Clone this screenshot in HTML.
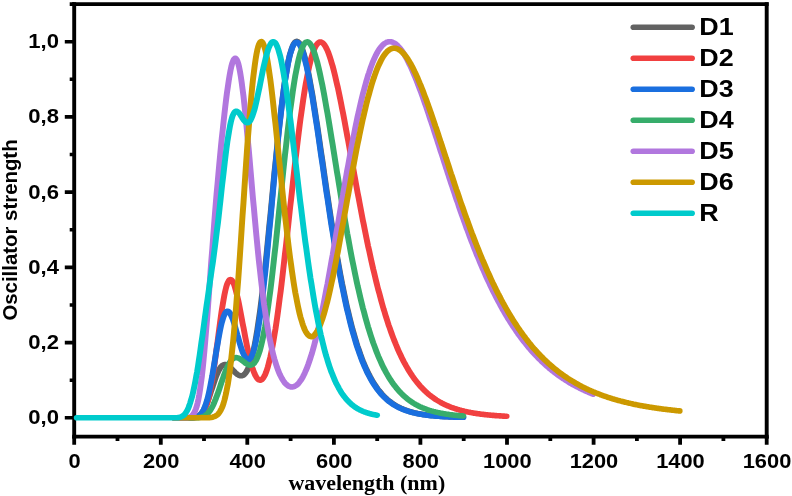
<!DOCTYPE html>
<html><head><meta charset="utf-8"><title>Oscillator strength vs wavelength</title>
<style>
html,body{margin:0;padding:0;background:#fff;}
body{width:792px;height:496px;overflow:hidden;}
svg{display:block;will-change:transform;}
.t{font-family:"Liberation Sans",Arial,sans-serif;font-weight:bold;fill:#000;}
.s{font-family:"Liberation Serif","Times New Roman",serif;font-weight:bold;fill:#000;}
.c{fill:none;stroke-width:5.6;stroke-linecap:round;stroke-linejoin:round;}
</style></head><body>
<svg width="792" height="496" viewBox="0 0 792 496">
<rect width="792" height="496" fill="#fff"/>
<path d="M72.25,4.1H768.65M72.25,436.6H768.65" stroke="#000" stroke-width="3.6" fill="none"/>
<path d="M74.2,2.29V438.41M766.7,2.29V438.41" stroke="#000" stroke-width="3.9" fill="none"/>
<path d="M74.2,436.6v8.2 M117.5,436.6v4.4 M160.8,436.6v8.2 M204.0,436.6v4.4 M247.3,436.6v8.2 M290.6,436.6v4.4 M333.9,436.6v8.2 M377.2,436.6v4.4 M420.4,436.6v8.2 M463.7,436.6v4.4 M507.0,436.6v8.2 M550.3,436.6v4.4 M593.6,436.6v8.2 M636.9,436.6v4.4 M680.1,436.6v8.2 M723.4,436.6v4.4 M766.7,436.6v8.2" stroke="#000" stroke-width="3.8" fill="none"/>
<path d="M74.2,417.8h-9.4 M74.2,380.2h-4.5 M74.2,342.6h-9.4 M74.2,305.0h-4.5 M74.2,267.4h-9.4 M74.2,229.8h-4.5 M74.2,192.1h-9.4 M74.2,154.5h-4.5 M74.2,116.9h-9.4 M74.2,79.3h-4.5 M74.2,41.7h-9.4 M74.2,4.1h-4.5" stroke="#000" stroke-width="3.6" fill="none"/>
<g transform="scale(1.06,1)">
<polyline class="c" stroke="#626262" points="164.3,417.8 165.1,417.8 166.0,417.8 166.8,417.8 167.6,417.8 168.4,417.8 169.2,417.8 170.0,417.8 170.9,417.8 171.7,417.8 172.5,417.8 173.3,417.8 174.1,417.8 174.9,417.8 175.8,417.8 176.6,417.8 177.4,417.8 178.2,417.8 179.0,417.7 179.8,417.7 180.7,417.7 181.5,417.6 182.3,417.5 183.1,417.4 183.9,417.2 184.7,417.0 185.6,416.7 186.4,416.3 187.2,415.8 188.0,415.2 188.8,414.5 189.6,413.7 190.5,412.6 191.3,411.4 192.1,410.1 192.9,408.5 193.7,406.7 194.5,404.8 195.4,402.7 196.2,400.5 197.0,398.1 197.8,395.6 198.6,393.0 199.4,390.3 200.3,387.6 201.1,385.0 201.9,382.4 202.7,379.9 203.5,377.4 204.3,375.2 205.2,373.1 206.0,371.2 206.8,369.6 207.6,368.1 208.4,366.9 209.2,366.0 210.1,365.3 210.9,364.8 211.7,364.5 212.5,364.5 213.3,364.7 214.1,365.0 215.0,365.5 215.8,366.1 216.6,366.8 217.4,367.7 218.2,368.5 219.0,369.4 219.9,370.4 220.7,371.3 221.5,372.1 222.3,373.0 223.1,373.7 223.9,374.4 224.8,374.9 225.6,375.4 226.4,375.7 227.2,375.8 228.0,375.7 228.8,375.5 229.7,375.1 230.5,374.4 231.3,373.5 232.1,372.4 232.9,371.0 233.7,369.3 234.6,367.3 235.4,365.1 236.2,362.5 237.0,359.7 237.8,356.5 238.6,352.9 239.5,349.0 240.3,344.8 241.1,340.3 241.9,335.3 242.7,330.1 243.5,324.5 244.3,318.5 245.2,312.2 246.0,305.6 246.8,298.7 247.6,291.5 248.4,284.0 249.2,276.3 250.1,268.3 250.9,260.1 251.7,251.7 252.5,243.1 253.3,234.4 254.1,225.5 255.0,216.6 255.8,207.7 256.6,198.7 257.4,189.7 258.2,180.7 259.0,171.8 259.9,163.0 260.7,154.4 261.5,145.9 262.3,137.6 263.1,129.5 263.9,121.6 264.8,114.1 265.6,106.8 266.4,99.8 267.2,93.1 268.0,86.8 268.8,80.9 269.7,75.3 270.5,70.2 271.3,65.4 272.1,61.1 272.9,57.2 273.7,53.7 274.6,50.7 275.4,48.1 276.2,45.9 277.0,44.2 277.8,42.8 278.6,42.0 279.5,41.5 280.3,41.4 281.1,41.8 281.9,42.5 282.7,43.6 283.5,45.1 284.4,46.9 285.2,49.1 286.0,51.7 286.8,54.5 287.6,57.6 288.4,61.0 289.3,64.7 290.1,68.7 290.9,72.9 291.7,77.3 292.5,81.9 293.3,86.7 294.2,91.7 295.0,96.8 295.8,102.1 296.6,107.5 297.4,113.0 298.2,118.6 299.1,124.3 299.9,130.1 300.7,136.0 301.5,141.8 302.3,147.8 303.1,153.7 304.0,159.7 304.8,165.7 305.6,171.6 306.4,177.6 307.2,183.5 308.0,189.4 308.9,195.3 309.7,201.1 310.5,206.8 311.3,212.5 312.1,218.1 312.9,223.7 313.8,229.2 314.6,234.6 315.4,239.9 316.2,245.1 317.0,250.3 317.8,255.3 318.7,260.3 319.5,265.1 320.3,269.9 321.1,274.6 321.9,279.1 322.7,283.6 323.6,287.9 324.4,292.2 325.2,296.3 326.0,300.4 326.8,304.3 327.6,308.2 328.5,311.9 329.3,315.5 330.1,319.1 330.9,322.5 331.7,325.8 332.5,329.1 333.4,332.2 334.2,335.3 335.0,338.2 335.8,341.1 336.6,343.9 337.4,346.6 338.3,349.2 339.1,351.7 339.9,354.2 340.7,356.5 341.5,358.8 342.3,361.0 343.2,363.2 344.0,365.2 344.8,367.2 345.6,369.2 346.4,371.0 347.2,372.8 348.1,374.5 348.9,376.2 349.7,377.8 350.5,379.4 351.3,380.9 352.1,382.3 353.0,383.7 353.8,385.0 354.6,386.3 355.4,387.6 356.2,388.8 357.0,389.9 357.9,391.0 358.7,392.1 359.5,393.1 360.3,394.1 361.1,395.0 361.9,396.0 362.8,396.8 363.6,397.7 364.4,398.5 365.2,399.3 366.0,400.0 366.8,400.7 367.7,401.4 368.5,402.1 369.3,402.7 370.1,403.3 370.9,403.9 371.7,404.5 372.6,405.0 373.4,405.5 374.2,406.0 375.0,406.5 375.8,407.0 376.6,407.4 377.5,407.8 378.3,408.3 379.1,408.6 379.9,409.0 380.7,409.4 381.5,409.7 382.4,410.0 383.2,410.4 384.0,410.7 384.8,411.0 385.6,411.2 386.4,411.5 387.3,411.8 388.1,412.0 388.9,412.2 389.7,412.5 390.5,412.7 391.3,412.9 392.2,413.1 393.0,413.3 393.8,413.5 394.6,413.7 395.4,413.8 396.2,414.0 397.1,414.1 397.9,414.3 398.7,414.4 399.5,414.6 400.3,414.7 401.1,414.8 402.0,414.9 402.8,415.1 403.6,415.2 404.4,415.3 405.2,415.4 406.0,415.5 406.9,415.6 407.7,415.7 408.5,415.8 409.3,415.8 410.1,415.9 410.9,416.0 411.8,416.1 412.6,416.1 413.4,416.2 414.2,416.3 415.0,416.3 415.8,416.4 416.7,416.4 417.5,416.5 418.3,416.5 419.1,416.6 419.9,416.6 420.7,416.7 421.6,416.7 422.4,416.8 423.2,416.8 424.0,416.9 424.8,416.9 425.6,416.9 426.5,417.0 427.3,417.0 428.1,417.0 428.9,417.1 429.7,417.1 430.5,417.1 431.4,417.1 432.2,417.2 433.0,417.2 433.8,417.2 434.6,417.2 435.4,417.3 436.3,417.3 437.1,417.3"/>
<polyline class="c" stroke="#F14040" points="164.3,417.8 165.1,417.8 166.0,417.8 166.8,417.8 167.6,417.8 168.4,417.8 169.2,417.8 170.0,417.8 170.9,417.8 171.7,417.8 172.5,417.8 173.3,417.8 174.1,417.8 174.9,417.8 175.8,417.8 176.6,417.8 177.4,417.8 178.2,417.8 179.0,417.8 179.8,417.8 180.7,417.8 181.5,417.7 182.3,417.7 183.1,417.6 183.9,417.6 184.7,417.4 185.6,417.3 186.4,417.1 187.2,416.8 188.0,416.4 188.8,415.9 189.6,415.2 190.5,414.3 191.3,413.3 192.1,412.0 192.9,410.4 193.7,408.5 194.5,406.2 195.4,403.6 196.2,400.6 197.0,397.2 197.8,393.3 198.6,389.0 199.4,384.3 200.3,379.2 201.1,373.7 201.9,367.9 202.7,361.7 203.5,355.4 204.3,348.8 205.2,342.2 206.0,335.6 206.8,329.0 207.6,322.5 208.4,316.3 209.2,310.4 210.1,304.8 210.9,299.7 211.7,295.1 212.5,291.0 213.3,287.5 214.1,284.6 215.0,282.4 215.8,280.8 216.6,279.8 217.4,279.5 218.2,279.8 219.0,280.7 219.9,282.2 220.7,284.2 221.5,286.7 222.3,289.7 223.1,293.0 223.9,296.6 224.8,300.6 225.6,304.8 226.4,309.2 227.2,313.7 228.0,318.3 228.8,322.9 229.7,327.5 230.5,332.1 231.3,336.7 232.1,341.1 232.9,345.4 233.7,349.5 234.6,353.4 235.4,357.1 236.2,360.6 237.0,363.8 237.8,366.8 238.6,369.5 239.5,371.9 240.3,374.0 241.1,375.8 241.9,377.3 242.7,378.5 243.5,379.4 244.3,379.9 245.2,380.2 246.0,380.1 246.8,379.7 247.6,378.9 248.4,377.8 249.2,376.4 250.1,374.7 250.9,372.6 251.7,370.2 252.5,367.5 253.3,364.4 254.1,361.0 255.0,357.4 255.8,353.4 256.6,349.1 257.4,344.5 258.2,339.6 259.0,334.4 259.9,328.9 260.7,323.2 261.5,317.3 262.3,311.1 263.1,304.6 263.9,298.0 264.8,291.1 265.6,284.1 266.4,276.9 267.2,269.5 268.0,262.0 268.8,254.4 269.7,246.7 270.5,238.9 271.3,231.1 272.1,223.2 272.9,215.3 273.7,207.3 274.6,199.4 275.4,191.6 276.2,183.7 277.0,176.0 277.8,168.3 278.6,160.8 279.5,153.3 280.3,146.0 281.1,138.9 281.9,131.9 282.7,125.2 283.5,118.6 284.4,112.2 285.2,106.1 286.0,100.2 286.8,94.6 287.6,89.2 288.4,84.1 289.3,79.3 290.1,74.7 290.9,70.4 291.7,66.4 292.5,62.8 293.3,59.4 294.2,56.3 295.0,53.5 295.8,51.0 296.6,48.9 297.4,47.0 298.2,45.4 299.1,44.2 299.9,43.2 300.7,42.5 301.5,42.1 302.3,42.0 303.1,42.1 304.0,42.6 304.8,43.3 305.6,44.2 306.4,45.4 307.2,46.8 308.0,48.5 308.9,50.4 309.7,52.5 310.5,54.8 311.3,57.3 312.1,60.0 312.9,62.9 313.8,66.0 314.6,69.2 315.4,72.6 316.2,76.1 317.0,79.8 317.8,83.6 318.7,87.5 319.5,91.5 320.3,95.6 321.1,99.8 321.9,104.1 322.7,108.5 323.6,113.0 324.4,117.5 325.2,122.1 326.0,126.7 326.8,131.3 327.6,136.0 328.5,140.7 329.3,145.5 330.1,150.2 330.9,155.0 331.7,159.8 332.5,164.6 333.4,169.3 334.2,174.1 335.0,178.8 335.8,183.6 336.6,188.3 337.4,192.9 338.3,197.6 339.1,202.2 339.9,206.7 340.7,211.3 341.5,215.8 342.3,220.2 343.2,224.6 344.0,228.9 344.8,233.2 345.6,237.5 346.4,241.6 347.2,245.8 348.1,249.8 348.9,253.8 349.7,257.8 350.5,261.6 351.3,265.4 352.1,269.2 353.0,272.9 353.8,276.5 354.6,280.1 355.4,283.5 356.2,287.0 357.0,290.3 357.9,293.6 358.7,296.8 359.5,300.0 360.3,303.1 361.1,306.1 361.9,309.1 362.8,312.0 363.6,314.9 364.4,317.6 365.2,320.3 366.0,323.0 366.8,325.6 367.7,328.1 368.5,330.6 369.3,333.0 370.1,335.4 370.9,337.7 371.7,339.9 372.6,342.1 373.4,344.3 374.2,346.3 375.0,348.4 375.8,350.3 376.6,352.3 377.5,354.2 378.3,356.0 379.1,357.8 379.9,359.5 380.7,361.2 381.5,362.8 382.4,364.4 383.2,366.0 384.0,367.5 384.8,369.0 385.6,370.4 386.4,371.8 387.3,373.2 388.1,374.5 388.9,375.8 389.7,377.0 390.5,378.2 391.3,379.4 392.2,380.6 393.0,381.7 393.8,382.8 394.6,383.8 395.4,384.8 396.2,385.8 397.1,386.8 397.9,387.7 398.7,388.6 399.5,389.5 400.3,390.3 401.1,391.2 402.0,392.0 402.8,392.8 403.6,393.5 404.4,394.3 405.2,395.0 406.0,395.7 406.9,396.3 407.7,397.0 408.5,397.6 409.3,398.2 410.1,398.8 410.9,399.4 411.8,400.0 412.6,400.5 413.4,401.0 414.2,401.5 415.0,402.0 415.8,402.5 416.7,403.0 417.5,403.4 418.3,403.9 419.1,404.3 419.9,404.7 420.7,405.1 421.6,405.5 422.4,405.9 423.2,406.2 424.0,406.6 424.8,406.9 425.6,407.3 426.5,407.6 427.3,407.9 428.1,408.2 428.9,408.5 429.7,408.8 430.5,409.0 431.4,409.3 432.2,409.6 433.0,409.8 433.8,410.1 434.6,410.3 435.4,410.5 436.3,410.7 437.1,410.9 437.9,411.2 438.7,411.4 439.5,411.6 440.3,411.7 441.2,411.9 442.0,412.1 442.8,412.3 443.6,412.4 444.4,412.6 445.2,412.8 446.1,412.9 446.9,413.1 447.7,413.2 448.5,413.3 449.3,413.5 450.1,413.6 451.0,413.7 451.8,413.8 452.6,414.0 453.4,414.1 454.2,414.2 455.0,414.3 455.9,414.4 456.7,414.5 457.5,414.6 458.3,414.7 459.1,414.8 459.9,414.9 460.8,415.0 461.6,415.0 462.4,415.1 463.2,415.2 464.0,415.3 464.8,415.4 465.7,415.4 466.5,415.5 467.3,415.6 468.1,415.6 468.9,415.7 469.7,415.8 470.6,415.8 471.4,415.9 472.2,415.9 473.0,416.0 473.8,416.0 474.6,416.1 475.5,416.1 476.3,416.2 477.1,416.2 477.9,416.3"/>
<polyline class="c" stroke="#1A6FDF" points="164.3,417.8 165.1,417.8 166.0,417.8 166.8,417.8 167.6,417.8 168.4,417.8 169.2,417.8 170.0,417.8 170.9,417.8 171.7,417.8 172.5,417.8 173.3,417.8 174.1,417.8 174.9,417.8 175.8,417.8 176.6,417.8 177.4,417.8 178.2,417.8 179.0,417.8 179.8,417.7 180.7,417.7 181.5,417.7 182.3,417.6 183.1,417.5 183.9,417.4 184.7,417.2 185.6,416.9 186.4,416.6 187.2,416.2 188.0,415.6 188.8,414.9 189.6,414.0 190.5,412.9 191.3,411.5 192.1,409.9 192.9,407.9 193.7,405.7 194.5,403.1 195.4,400.2 196.2,396.9 197.0,393.3 197.8,389.3 198.6,385.0 199.4,380.4 200.3,375.6 201.1,370.5 201.9,365.3 202.7,360.1 203.5,354.8 204.3,349.5 205.2,344.4 206.0,339.4 206.8,334.7 207.6,330.3 208.4,326.3 209.2,322.7 210.1,319.5 210.9,316.8 211.7,314.7 212.5,313.0 213.3,311.9 214.1,311.4 215.0,311.3 215.8,311.7 216.6,312.6 217.4,314.0 218.2,315.7 219.0,317.8 219.9,320.1 220.7,322.8 221.5,325.6 222.3,328.6 223.1,331.7 223.9,334.8 224.8,337.9 225.6,341.0 226.4,344.0 227.2,346.8 228.0,349.4 228.8,351.9 229.7,354.0 230.5,355.9 231.3,357.4 232.1,358.6 232.9,359.4 233.7,359.8 234.6,359.8 235.4,359.3 236.2,358.4 237.0,357.0 237.8,355.2 238.6,352.9 239.5,350.1 240.3,346.8 241.1,343.1 241.9,338.8 242.7,334.2 243.5,329.0 244.3,323.5 245.2,317.5 246.0,311.1 246.8,304.3 247.6,297.1 248.4,289.6 249.2,281.8 250.1,273.7 250.9,265.4 251.7,256.8 252.5,248.0 253.3,239.0 254.1,230.0 255.0,220.8 255.8,211.5 256.6,202.3 257.4,193.0 258.2,183.8 259.0,174.6 259.9,165.6 260.7,156.7 261.5,148.0 262.3,139.4 263.1,131.1 263.9,123.1 264.8,115.3 265.6,107.9 266.4,100.8 267.2,94.0 268.0,87.6 268.8,81.6 269.7,75.9 270.5,70.7 271.3,65.9 272.1,61.6 272.9,57.7 273.7,54.2 274.6,51.2 275.4,48.6 276.2,46.4 277.0,44.7 277.8,43.5 278.6,42.6 279.5,42.2 280.3,42.3 281.1,42.7 281.9,43.5 282.7,44.7 283.5,46.3 284.4,48.2 285.2,50.5 286.0,53.1 286.8,56.0 287.6,59.3 288.4,62.8 289.3,66.5 290.1,70.6 290.9,74.8 291.7,79.3 292.5,84.0 293.3,88.9 294.2,93.9 295.0,99.2 295.8,104.5 296.6,110.0 297.4,115.5 298.2,121.2 299.1,127.0 299.9,132.8 300.7,138.7 301.5,144.6 302.3,150.6 303.1,156.5 304.0,162.5 304.8,168.5 305.6,174.5 306.4,180.5 307.2,186.4 308.0,192.3 308.9,198.1 309.7,203.9 310.5,209.7 311.3,215.4 312.1,221.0 312.9,226.5 313.8,232.0 314.6,237.4 315.4,242.7 316.2,247.9 317.0,253.0 317.8,258.0 318.7,262.9 319.5,267.8 320.3,272.5 321.1,277.1 321.9,281.6 322.7,286.0 323.6,290.3 324.4,294.6 325.2,298.7 326.0,302.7 326.8,306.6 327.6,310.4 328.5,314.0 329.3,317.6 330.1,321.1 330.9,324.5 331.7,327.8 332.5,331.0 333.4,334.1 334.2,337.1 335.0,340.0 335.8,342.9 336.6,345.6 337.4,348.3 338.3,350.8 339.1,353.3 339.9,355.7 340.7,358.0 341.5,360.3 342.3,362.5 343.2,364.6 344.0,366.6 344.8,368.5 345.6,370.4 346.4,372.3 347.2,374.0 348.1,375.7 348.9,377.3 349.7,378.9 350.5,380.4 351.3,381.9 352.1,383.3 353.0,384.7 353.8,386.0 354.6,387.2 355.4,388.4 356.2,389.6 357.0,390.7 357.9,391.8 358.7,392.9 359.5,393.9 360.3,394.8 361.1,395.7 361.9,396.6 362.8,397.5 363.6,398.3 364.4,399.1 365.2,399.9 366.0,400.6 366.8,401.3 367.7,401.9 368.5,402.6 369.3,403.2 370.1,403.8 370.9,404.4 371.7,404.9 372.6,405.5 373.4,406.0 374.2,406.4 375.0,406.9 375.8,407.4 376.6,407.8 377.5,408.2 378.3,408.6 379.1,409.0 379.9,409.3 380.7,409.7 381.5,410.0 382.4,410.3 383.2,410.6 384.0,410.9 384.8,411.2 385.6,411.5 386.4,411.7 387.3,412.0 388.1,412.2 388.9,412.5 389.7,412.7 390.5,412.9 391.3,413.1 392.2,413.3 393.0,413.5 393.8,413.6 394.6,413.8 395.4,414.0 396.2,414.1 397.1,414.3 397.9,414.4 398.7,414.6 399.5,414.7 400.3,414.8 401.1,414.9 402.0,415.1 402.8,415.2 403.6,415.3 404.4,415.4 405.2,415.5 406.0,415.6 406.9,415.7 407.7,415.8 408.5,415.8 409.3,415.9 410.1,416.0 410.9,416.1 411.8,416.1 412.6,416.2 413.4,416.3 414.2,416.3 415.0,416.4 415.8,416.4 416.7,416.5 417.5,416.6 418.3,416.6 419.1,416.6 419.9,416.7 420.7,416.7 421.6,416.8 422.4,416.8 423.2,416.9 424.0,416.9 424.8,416.9 425.6,417.0 426.5,417.0 427.3,417.0 428.1,417.1 428.9,417.1 429.7,417.1 430.5,417.1 431.4,417.2 432.2,417.2 433.0,417.2 433.8,417.2 434.6,417.3 435.4,417.3 436.3,417.3 437.1,417.3"/>
<polyline class="c" stroke="#37AD6B" points="164.3,417.8 165.1,417.8 166.0,417.8 166.8,417.8 167.6,417.8 168.4,417.8 169.2,417.8 170.0,417.8 170.9,417.8 171.7,417.8 172.5,417.8 173.3,417.8 174.1,417.8 174.9,417.8 175.8,417.8 176.6,417.8 177.4,417.8 178.2,417.8 179.0,417.8 179.8,417.8 180.7,417.8 181.5,417.8 182.3,417.8 183.1,417.8 183.9,417.7 184.7,417.7 185.6,417.7 186.4,417.6 187.2,417.6 188.0,417.5 188.8,417.3 189.6,417.2 190.5,417.0 191.3,416.7 192.1,416.4 192.9,416.0 193.7,415.4 194.5,414.8 195.4,414.1 196.2,413.3 197.0,412.3 197.8,411.1 198.6,409.9 199.4,408.4 200.3,406.8 201.1,405.1 201.9,403.2 202.7,401.1 203.5,399.0 204.3,396.7 205.2,394.3 206.0,391.8 206.8,389.3 207.6,386.7 208.4,384.1 209.2,381.6 210.1,379.0 210.9,376.5 211.7,374.2 212.5,371.9 213.3,369.7 214.1,367.7 215.0,365.9 215.8,364.2 216.6,362.7 217.4,361.4 218.2,360.3 219.0,359.4 219.9,358.7 220.7,358.1 221.5,357.8 222.3,357.6 223.1,357.6 223.9,357.8 224.8,358.0 225.6,358.4 226.4,358.9 227.2,359.5 228.0,360.2 228.8,360.8 229.7,361.5 230.5,362.2 231.3,362.9 232.1,363.5 232.9,364.1 233.7,364.5 234.6,364.9 235.4,365.1 236.2,365.2 237.0,365.0 237.8,364.7 238.6,364.2 239.5,363.4 240.3,362.4 241.1,361.1 241.9,359.6 242.7,357.7 243.5,355.6 244.3,353.1 245.2,350.3 246.0,347.1 246.8,343.7 247.6,339.9 248.4,335.7 249.2,331.3 250.1,326.4 250.9,321.3 251.7,315.8 252.5,310.0 253.3,304.0 254.1,297.6 255.0,290.9 255.8,284.0 256.6,276.9 257.4,269.5 258.2,261.9 259.0,254.1 259.9,246.2 260.7,238.1 261.5,229.9 262.3,221.6 263.1,213.3 263.9,204.9 264.8,196.5 265.6,188.2 266.4,179.9 267.2,171.6 268.0,163.4 268.8,155.4 269.7,147.5 270.5,139.7 271.3,132.1 272.1,124.8 272.9,117.7 273.7,110.8 274.6,104.1 275.4,97.8 276.2,91.7 277.0,86.0 277.8,80.6 278.6,75.5 279.5,70.8 280.3,66.4 281.1,62.3 281.9,58.6 282.7,55.3 283.5,52.4 284.4,49.8 285.2,47.6 286.0,45.7 286.8,44.2 287.6,43.1 288.4,42.4 289.3,42.0 290.1,41.9 290.9,42.2 291.7,42.8 292.5,43.7 293.3,45.0 294.2,46.5 295.0,48.3 295.8,50.5 296.6,52.8 297.4,55.5 298.2,58.4 299.1,61.5 299.9,64.9 300.7,68.4 301.5,72.2 302.3,76.1 303.1,80.3 304.0,84.6 304.8,89.0 305.6,93.6 306.4,98.3 307.2,103.1 308.0,108.0 308.9,113.0 309.7,118.1 310.5,123.2 311.3,128.5 312.1,133.7 312.9,139.0 313.8,144.4 314.6,149.8 315.4,155.2 316.2,160.6 317.0,165.9 317.8,171.3 318.7,176.7 319.5,182.1 320.3,187.4 321.1,192.7 321.9,198.0 322.7,203.2 323.6,208.3 324.4,213.5 325.2,218.5 326.0,223.5 326.8,228.5 327.6,233.4 328.5,238.2 329.3,242.9 330.1,247.6 330.9,252.2 331.7,256.7 332.5,261.1 333.4,265.5 334.2,269.7 335.0,273.9 335.8,278.0 336.6,282.1 337.4,286.0 338.3,289.9 339.1,293.6 339.9,297.3 340.7,300.9 341.5,304.4 342.3,307.9 343.2,311.2 344.0,314.5 344.8,317.7 345.6,320.8 346.4,323.8 347.2,326.8 348.1,329.7 348.9,332.5 349.7,335.2 350.5,337.8 351.3,340.4 352.1,342.9 353.0,345.4 353.8,347.7 354.6,350.0 355.4,352.2 356.2,354.4 357.0,356.5 357.9,358.6 358.7,360.5 359.5,362.4 360.3,364.3 361.1,366.1 361.9,367.9 362.8,369.6 363.6,371.2 364.4,372.8 365.2,374.3 366.0,375.8 366.8,377.3 367.7,378.7 368.5,380.0 369.3,381.3 370.1,382.6 370.9,383.8 371.7,385.0 372.6,386.1 373.4,387.2 374.2,388.3 375.0,389.3 375.8,390.3 376.6,391.3 377.5,392.2 378.3,393.1 379.1,394.0 379.9,394.8 380.7,395.7 381.5,396.4 382.4,397.2 383.2,397.9 384.0,398.6 384.8,399.3 385.6,400.0 386.4,400.6 387.3,401.2 388.1,401.8 388.9,402.4 389.7,402.9 390.5,403.5 391.3,404.0 392.2,404.5 393.0,404.9 393.8,405.4 394.6,405.8 395.4,406.3 396.2,406.7 397.1,407.1 397.9,407.5 398.7,407.8 399.5,408.2 400.3,408.5 401.1,408.9 402.0,409.2 402.8,409.5 403.6,409.8 404.4,410.1 405.2,410.4 406.0,410.6 406.9,410.9 407.7,411.1 408.5,411.4 409.3,411.6 410.1,411.8 410.9,412.0 411.8,412.2 412.6,412.4 413.4,412.6 414.2,412.8 415.0,413.0 415.8,413.2 416.7,413.3 417.5,413.5 418.3,413.6 419.1,413.8 419.9,413.9 420.7,414.1 421.6,414.2 422.4,414.3 423.2,414.4 424.0,414.6 424.8,414.7 425.6,414.8 426.5,414.9 427.3,415.0 428.1,415.1 428.9,415.2 429.7,415.3 430.5,415.4 431.4,415.5 432.2,415.5 433.0,415.6 433.8,415.7 434.6,415.8 435.4,415.8 436.3,415.9 437.1,416.0"/>
<polyline class="c" stroke="#B177DE" points="164.3,417.8 165.1,417.8 166.0,417.8 166.8,417.8 167.6,417.8 168.4,417.8 169.2,417.8 170.0,417.8 170.9,417.8 171.7,417.8 172.5,417.8 173.3,417.8 174.1,417.8 174.9,417.7 175.8,417.7 176.6,417.6 177.4,417.5 178.2,417.3 179.0,417.0 179.8,416.6 180.7,416.1 181.5,415.3 182.3,414.3 183.1,413.0 183.9,411.3 184.7,409.1 185.6,406.4 186.4,403.1 187.2,399.2 188.0,394.5 188.8,389.0 189.6,382.8 190.5,375.8 191.3,367.9 192.1,359.3 192.9,350.0 193.7,340.0 194.5,329.5 195.4,318.5 196.2,307.1 197.0,295.5 197.8,283.8 198.6,272.0 199.4,260.2 200.3,248.6 201.1,237.1 201.9,225.9 202.7,215.0 203.5,204.4 204.3,194.1 205.2,184.1 206.0,174.4 206.8,165.0 207.6,155.9 208.4,147.0 209.2,138.4 210.1,130.1 210.9,122.0 211.7,114.2 212.5,106.7 213.3,99.6 214.1,92.8 215.0,86.5 215.8,80.7 216.6,75.4 217.4,70.7 218.2,66.7 219.0,63.5 219.9,61.0 220.7,59.2 221.5,58.4 222.3,58.4 223.1,59.3 223.9,61.0 224.8,63.7 225.6,67.2 226.4,71.5 227.2,76.6 228.0,82.4 228.8,89.0 229.7,96.2 230.5,103.9 231.3,112.2 232.1,120.8 232.9,129.9 233.7,139.2 234.6,148.8 235.4,158.6 236.2,168.4 237.0,178.3 237.8,188.2 238.6,198.0 239.5,207.7 240.3,217.2 241.1,226.6 241.9,235.8 242.7,244.6 243.5,253.3 244.3,261.6 245.2,269.7 246.0,277.4 246.8,284.8 247.6,291.9 248.4,298.6 249.2,305.1 250.1,311.2 250.9,317.0 251.7,322.5 252.5,327.7 253.3,332.6 254.1,337.2 255.0,341.5 255.8,345.6 256.6,349.4 257.4,353.0 258.2,356.4 259.0,359.5 259.9,362.5 260.7,365.2 261.5,367.7 262.3,370.1 263.1,372.2 263.9,374.2 264.8,376.1 265.6,377.7 266.4,379.3 267.2,380.6 268.0,381.9 268.8,383.0 269.7,383.9 270.5,384.7 271.3,385.4 272.1,386.0 272.9,386.4 273.7,386.7 274.6,386.9 275.4,387.0 276.2,386.9 277.0,386.7 277.8,386.4 278.6,385.9 279.5,385.4 280.3,384.7 281.1,383.9 281.9,382.9 282.7,381.8 283.5,380.6 284.4,379.3 285.2,377.9 286.0,376.3 286.8,374.6 287.6,372.8 288.4,370.8 289.3,368.7 290.1,366.5 290.9,364.2 291.7,361.7 292.5,359.1 293.3,356.4 294.2,353.6 295.0,350.6 295.8,347.5 296.6,344.4 297.4,341.0 298.2,337.6 299.1,334.1 299.9,330.5 300.7,326.7 301.5,322.9 302.3,318.9 303.1,314.9 304.0,310.7 304.8,306.5 305.6,302.2 306.4,297.8 307.2,293.3 308.0,288.8 308.9,284.2 309.7,279.5 310.5,274.8 311.3,270.0 312.1,265.1 312.9,260.2 313.8,255.3 314.6,250.3 315.4,245.3 316.2,240.3 317.0,235.3 317.8,230.2 318.7,225.1 319.5,220.1 320.3,215.0 321.1,209.9 321.9,204.8 322.7,199.8 323.6,194.8 324.4,189.7 325.2,184.8 326.0,179.8 326.8,174.9 327.6,170.0 328.5,165.2 329.3,160.5 330.1,155.7 330.9,151.1 331.7,146.5 332.5,142.0 333.4,137.5 334.2,133.2 335.0,128.8 335.8,124.6 336.6,120.5 337.4,116.4 338.3,112.5 339.1,108.6 339.9,104.9 340.7,101.2 341.5,97.6 342.3,94.1 343.2,90.8 344.0,87.5 344.8,84.4 345.6,81.3 346.4,78.4 347.2,75.5 348.1,72.8 348.9,70.2 349.7,67.7 350.5,65.4 351.3,63.1 352.1,61.0 353.0,58.9 353.8,57.0 354.6,55.2 355.4,53.6 356.2,52.0 357.0,50.5 357.9,49.2 358.7,48.0 359.5,46.9 360.3,45.9 361.1,45.0 361.9,44.2 362.8,43.5 363.6,43.0 364.4,42.5 365.2,42.1 366.0,41.9 366.8,41.8 367.7,41.7 368.5,41.8 369.3,41.9 370.1,42.2 370.9,42.5 371.7,43.0 372.6,43.5 373.4,44.1 374.2,44.8 375.0,45.6 375.8,46.5 376.6,47.4 377.5,48.5 378.3,49.6 379.1,50.7 379.9,52.0 380.7,53.3 381.5,54.7 382.4,56.2 383.2,57.7 384.0,59.3 384.8,61.0 385.6,62.7 386.4,64.5 387.3,66.3 388.1,68.2 388.9,70.1 389.7,72.1 390.5,74.2 391.3,76.2 392.2,78.4 393.0,80.5 393.8,82.7 394.6,85.0 395.4,87.3 396.2,89.6 397.1,91.9 397.9,94.3 398.7,96.7 399.5,99.2 400.3,101.6 401.1,104.1 402.0,106.6 402.8,109.1 403.6,111.7 404.4,114.3 405.2,116.9 406.0,119.5 406.9,122.1 407.7,124.7 408.5,127.3 409.3,130.0 410.1,132.7 410.9,135.3 411.8,138.0 412.6,140.7 413.4,143.4 414.2,146.0 415.0,148.7 415.8,151.4 416.7,154.1 417.5,156.8 418.3,159.5 419.1,162.2 419.9,164.8 420.7,167.5 421.6,170.2 422.4,172.9 423.2,175.5 424.0,178.2 424.8,180.8 425.6,183.4 426.5,186.0 427.3,188.6 428.1,191.2 428.9,193.8 429.7,196.4 430.5,199.0 431.4,201.5 432.2,204.0 433.0,206.6 433.8,209.1 434.6,211.5 435.4,214.0 436.3,216.5 437.1,218.9 437.9,221.3 438.7,223.7 439.5,226.1 440.3,228.5 441.2,230.8 442.0,233.2 442.8,235.5 443.6,237.8 444.4,240.1 445.2,242.3 446.1,244.5 446.9,246.8 447.7,249.0 448.5,251.1 449.3,253.3 450.1,255.4 451.0,257.5 451.8,259.6 452.6,261.7 453.4,263.8 454.2,265.8 455.0,267.8 455.9,269.8 456.7,271.8 457.5,273.7 458.3,275.7 459.1,277.6 459.9,279.5 460.8,281.4 461.6,283.2 462.4,285.0 463.2,286.8 464.0,288.6 464.8,290.4 465.7,292.2 466.5,293.9 467.3,295.6 468.1,297.3 468.9,298.9 469.7,300.6 470.6,302.2 471.4,303.8 472.2,305.4 473.0,307.0 473.8,308.6 474.6,310.1 475.5,311.6 476.3,313.1 477.1,314.6 477.9,316.0 478.7,317.5 479.5,318.9 480.4,320.3 481.2,321.7 482.0,323.0 482.8,324.4 483.6,325.7 484.4,327.0 485.3,328.3 486.1,329.6 486.9,330.9 487.7,332.1 488.5,333.4 489.3,334.6 490.2,335.8 491.0,336.9 491.8,338.1 492.6,339.3 493.4,340.4 494.2,341.5 495.1,342.6 495.9,343.7 496.7,344.8 497.5,345.8 498.3,346.9 499.1,347.9 500.0,348.9 500.8,349.9 501.6,350.9 502.4,351.9 503.2,352.8 504.0,353.8 504.9,354.7 505.7,355.6 506.5,356.5 507.3,357.4 508.1,358.3 508.9,359.2 509.8,360.0 510.6,360.9 511.4,361.7 512.2,362.5 513.0,363.3 513.8,364.1 514.7,364.9 515.5,365.7 516.3,366.5 517.1,367.2 517.9,367.9 518.7,368.7 519.6,369.4 520.4,370.1 521.2,370.8 522.0,371.5 522.8,372.2 523.6,372.8 524.5,373.5 525.3,374.1 526.1,374.8 526.9,375.4 527.7,376.0 528.5,376.6 529.4,377.2 530.2,377.8 531.0,378.4 531.8,379.0 532.6,379.5 533.4,380.1 534.3,380.7 535.1,381.2 535.9,381.7 536.7,382.3 537.5,382.8 538.3,383.3 539.2,383.8 540.0,384.3 540.8,384.8 541.6,385.2 542.4,385.7 543.2,386.2 544.1,386.6 544.9,387.1 545.7,387.5 546.5,388.0 547.3,388.4 548.1,388.8 549.0,389.3 549.8,389.7 550.6,390.1 551.4,390.5 552.2,390.9 553.0,391.3 553.9,391.6 554.7,392.0 555.5,392.4 556.3,392.8 557.1,393.1 557.9,393.5 558.8,393.8 559.6,394.2"/>
<polyline class="c" stroke="#CC9900" points="164.3,417.8 165.1,417.8 166.0,417.8 166.8,417.8 167.6,417.8 168.4,417.8 169.2,417.8 170.0,417.8 170.9,417.8 171.7,417.8 172.5,417.8 173.3,417.8 174.1,417.8 174.9,417.8 175.8,417.8 176.6,417.8 177.4,417.8 178.2,417.8 179.0,417.8 179.8,417.8 180.7,417.8 181.5,417.8 182.3,417.8 183.1,417.8 183.9,417.8 184.7,417.8 185.6,417.8 186.4,417.8 187.2,417.8 188.0,417.8 188.8,417.8 189.6,417.8 190.5,417.8 191.3,417.8 192.1,417.8 192.9,417.8 193.7,417.8 194.5,417.8 195.4,417.7 196.2,417.7 197.0,417.6 197.8,417.6 198.6,417.5 199.4,417.4 200.3,417.2 201.1,417.0 201.9,416.7 202.7,416.4 203.5,415.9 204.3,415.4 205.2,414.7 206.0,413.8 206.8,412.7 207.6,411.4 208.4,409.9 209.2,408.1 210.1,405.9 210.9,403.4 211.7,400.4 212.5,397.0 213.3,393.2 214.1,388.8 215.0,383.9 215.8,378.4 216.6,372.4 217.4,365.7 218.2,358.4 219.0,350.5 219.9,341.9 220.7,332.8 221.5,323.1 222.3,312.8 223.1,301.9 223.9,290.6 224.8,278.9 225.6,266.7 226.4,254.3 227.2,241.6 228.0,228.7 228.8,215.7 229.7,202.7 230.5,189.8 231.3,177.0 232.1,164.4 232.9,152.1 233.7,140.1 234.6,128.6 235.4,117.7 236.2,107.2 237.0,97.5 237.8,88.4 238.6,80.0 239.5,72.4 240.3,65.6 241.1,59.6 241.9,54.5 242.7,50.2 243.5,46.8 244.3,44.2 245.2,42.5 246.0,41.7 246.8,41.6 247.6,42.3 248.4,43.9 249.2,46.1 250.1,49.1 250.9,52.7 251.7,56.9 252.5,61.7 253.3,67.1 254.1,73.0 255.0,79.3 255.8,86.0 256.6,93.0 257.4,100.4 258.2,108.1 259.0,115.9 259.9,124.0 260.7,132.2 261.5,140.6 262.3,149.0 263.1,157.4 263.9,165.8 264.8,174.2 265.6,182.6 266.4,190.9 267.2,199.0 268.0,207.1 268.8,215.0 269.7,222.7 270.5,230.2 271.3,237.6 272.1,244.7 272.9,251.6 273.7,258.2 274.6,264.6 275.4,270.8 276.2,276.7 277.0,282.3 277.8,287.6 278.6,292.7 279.5,297.5 280.3,302.0 281.1,306.2 281.9,310.1 282.7,313.8 283.5,317.2 284.4,320.3 285.2,323.1 286.0,325.6 286.8,327.9 287.6,329.9 288.4,331.6 289.3,333.1 290.1,334.3 290.9,335.2 291.7,335.9 292.5,336.4 293.3,336.6 294.2,336.6 295.0,336.3 295.8,335.8 296.6,335.1 297.4,334.1 298.2,333.0 299.1,331.6 299.9,330.1 300.7,328.3 301.5,326.4 302.3,324.2 303.1,321.9 304.0,319.4 304.8,316.8 305.6,314.0 306.4,311.0 307.2,307.9 308.0,304.6 308.9,301.2 309.7,297.7 310.5,294.0 311.3,290.2 312.1,286.3 312.9,282.3 313.8,278.2 314.6,274.0 315.4,269.8 316.2,265.4 317.0,261.0 317.8,256.5 318.7,251.9 319.5,247.3 320.3,242.6 321.1,237.9 321.9,233.1 322.7,228.4 323.6,223.6 324.4,218.7 325.2,213.9 326.0,209.1 326.8,204.2 327.6,199.4 328.5,194.6 329.3,189.7 330.1,185.0 330.9,180.2 331.7,175.5 332.5,170.8 333.4,166.1 334.2,161.5 335.0,157.0 335.8,152.5 336.6,148.0 337.4,143.7 338.3,139.4 339.1,135.1 339.9,131.0 340.7,126.9 341.5,122.9 342.3,119.0 343.2,115.1 344.0,111.4 344.8,107.8 345.6,104.2 346.4,100.8 347.2,97.4 348.1,94.2 348.9,91.1 349.7,88.0 350.5,85.1 351.3,82.3 352.1,79.6 353.0,77.0 353.8,74.5 354.6,72.1 355.4,69.9 356.2,67.7 357.0,65.7 357.9,63.8 358.7,62.0 359.5,60.3 360.3,58.7 361.1,57.2 361.9,55.9 362.8,54.6 363.6,53.5 364.4,52.5 365.2,51.6 366.0,50.8 366.8,50.1 367.7,49.5 368.5,49.1 369.3,48.7 370.1,48.4 370.9,48.3 371.7,48.2 372.6,48.2 373.4,48.3 374.2,48.6 375.0,48.9 375.8,49.3 376.6,49.8 377.5,50.4 378.3,51.1 379.1,51.8 379.9,52.7 380.7,53.6 381.5,54.6 382.4,55.7 383.2,56.8 384.0,58.0 384.8,59.3 385.6,60.7 386.4,62.1 387.3,63.6 388.1,65.2 388.9,66.8 389.7,68.5 390.5,70.2 391.3,72.0 392.2,73.9 393.0,75.8 393.8,77.7 394.6,79.7 395.4,81.7 396.2,83.8 397.1,85.9 397.9,88.1 398.7,90.3 399.5,92.5 400.3,94.8 401.1,97.1 402.0,99.4 402.8,101.8 403.6,104.2 404.4,106.6 405.2,109.0 406.0,111.5 406.9,114.0 407.7,116.5 408.5,119.0 409.3,121.5 410.1,124.1 410.9,126.6 411.8,129.2 412.6,131.8 413.4,134.4 414.2,137.0 415.0,139.6 415.8,142.2 416.7,144.9 417.5,147.5 418.3,150.1 419.1,152.8 419.9,155.4 420.7,158.0 421.6,160.7 422.4,163.3 423.2,165.9 424.0,168.6 424.8,171.2 425.6,173.8 426.5,176.4 427.3,179.0 428.1,181.6 428.9,184.2 429.7,186.8 430.5,189.3 431.4,191.9 432.2,194.4 433.0,196.9 433.8,199.5 434.6,202.0 435.4,204.5 436.3,206.9 437.1,209.4 437.9,211.9 438.7,214.3 439.5,216.7 440.3,219.1 441.2,221.5 442.0,223.9 442.8,226.2 443.6,228.6 444.4,230.9 445.2,233.2 446.1,235.5 446.9,237.7 447.7,240.0 448.5,242.2 449.3,244.4 450.1,246.6 451.0,248.8 451.8,250.9 452.6,253.1 453.4,255.2 454.2,257.3 455.0,259.3 455.9,261.4 456.7,263.4 457.5,265.4 458.3,267.4 459.1,269.4 459.9,271.4 460.8,273.3 461.6,275.2 462.4,277.1 463.2,279.0 464.0,280.8 464.8,282.7 465.7,284.5 466.5,286.3 467.3,288.0 468.1,289.8 468.9,291.5 469.7,293.2 470.6,294.9 471.4,296.6 472.2,298.2 473.0,299.9 473.8,301.5 474.6,303.1 475.5,304.7 476.3,306.2 477.1,307.8 477.9,309.3 478.7,310.8 479.5,312.3 480.4,313.7 481.2,315.2 482.0,316.6 482.8,318.0 483.6,319.4 484.4,320.8 485.3,322.2 486.1,323.5 486.9,324.8 487.7,326.1 488.5,327.4 489.3,328.7 490.2,329.9 491.0,331.2 491.8,332.4 492.6,333.6 493.4,334.8 494.2,336.0 495.1,337.1 495.9,338.3 496.7,339.4 497.5,340.5 498.3,341.6 499.1,342.7 500.0,343.8 500.8,344.8 501.6,345.9 502.4,346.9 503.2,347.9 504.0,348.9 504.9,349.9 505.7,350.8 506.5,351.8 507.3,352.7 508.1,353.7 508.9,354.6 509.8,355.5 510.6,356.4 511.4,357.3 512.2,358.1 513.0,359.0 513.8,359.8 514.7,360.6 515.5,361.5 516.3,362.3 517.1,363.1 517.9,363.8 518.7,364.6 519.6,365.4 520.4,366.1 521.2,366.9 522.0,367.6 522.8,368.3 523.6,369.0 524.5,369.7 525.3,370.4 526.1,371.1 526.9,371.8 527.7,372.4 528.5,373.1 529.4,373.7 530.2,374.3 531.0,375.0 531.8,375.6 532.6,376.2 533.4,376.8 534.3,377.3 535.1,377.9 535.9,378.5 536.7,379.0 537.5,379.6 538.3,380.1 539.2,380.7 540.0,381.2 540.8,381.7 541.6,382.2 542.4,382.7 543.2,383.2 544.1,383.7 544.9,384.2 545.7,384.7 546.5,385.2 547.3,385.6 548.1,386.1 549.0,386.5 549.8,387.0 550.6,387.4 551.4,387.8 552.2,388.2 553.0,388.7 553.9,389.1 554.7,389.5 555.5,389.9 556.3,390.3 557.1,390.7 557.9,391.0 558.8,391.4 559.6,391.8 560.4,392.1 561.2,392.5 562.0,392.9 562.8,393.2 563.7,393.5 564.5,393.9 565.3,394.2 566.1,394.5 566.9,394.9 567.7,395.2 568.6,395.5 569.4,395.8 570.2,396.1 571.0,396.4 571.8,396.7 572.6,397.0 573.5,397.3 574.3,397.6 575.1,397.8 575.9,398.1 576.7,398.4 577.5,398.7 578.4,398.9 579.2,399.2 580.0,399.4 580.8,399.7 581.6,399.9 582.4,400.2 583.3,400.4 584.1,400.6 584.9,400.9 585.7,401.1 586.5,401.3 587.3,401.6 588.2,401.8 589.0,402.0 589.8,402.2 590.6,402.4 591.4,402.6 592.2,402.8 593.0,403.0 593.9,403.2 594.7,403.4 595.5,403.6 596.3,403.8 597.1,404.0 597.9,404.2 598.8,404.4 599.6,404.5 600.4,404.7 601.2,404.9 602.0,405.1 602.8,405.2 603.7,405.4 604.5,405.6 605.3,405.7 606.1,405.9 606.9,406.0 607.7,406.2 608.6,406.3 609.4,406.5 610.2,406.6 611.0,406.8 611.8,406.9 612.6,407.1 613.5,407.2 614.3,407.3 615.1,407.5 615.9,407.6 616.7,407.7 617.5,407.9 618.4,408.0 619.2,408.1 620.0,408.3 620.8,408.4 621.6,408.5 622.4,408.6 623.3,408.7 624.1,408.9 624.9,409.0 625.7,409.1 626.5,409.2 627.3,409.3 628.2,409.4 629.0,409.5 629.8,409.6 630.6,409.7 631.4,409.8 632.2,409.9 633.1,410.0 633.9,410.1 634.7,410.2 635.5,410.3 636.3,410.4 637.1,410.5 638.0,410.6 638.8,410.7 639.6,410.8 640.4,410.9 641.2,410.9"/>
<polyline class="c" stroke="#00CBCC" points="72.4,417.8 73.3,417.8 74.1,417.8 74.9,417.8 75.7,417.8 76.5,417.8 77.3,417.8 78.2,417.8 79.0,417.8 79.8,417.8 80.6,417.8 81.4,417.8 82.2,417.8 83.1,417.8 83.9,417.8 84.7,417.8 85.5,417.8 86.3,417.8 87.1,417.8 88.0,417.8 88.8,417.8 89.6,417.8 90.4,417.8 91.2,417.8 92.0,417.8 92.9,417.8 93.7,417.8 94.5,417.8 95.3,417.8 96.1,417.8 96.9,417.8 97.8,417.8 98.6,417.8 99.4,417.8 100.2,417.8 101.0,417.8 101.8,417.8 102.7,417.8 103.5,417.8 104.3,417.8 105.1,417.8 105.9,417.8 106.7,417.8 107.6,417.8 108.4,417.8 109.2,417.8 110.0,417.8 110.8,417.8 111.6,417.8 112.5,417.8 113.3,417.8 114.1,417.8 114.9,417.8 115.7,417.8 116.5,417.8 117.4,417.8 118.2,417.8 119.0,417.8 119.8,417.8 120.6,417.8 121.4,417.8 122.3,417.8 123.1,417.8 123.9,417.8 124.7,417.8 125.5,417.8 126.3,417.8 127.2,417.8 128.0,417.8 128.8,417.8 129.6,417.8 130.4,417.8 131.2,417.8 132.1,417.8 132.9,417.8 133.7,417.8 134.5,417.8 135.3,417.8 136.1,417.8 137.0,417.8 137.8,417.8 138.6,417.8 139.4,417.8 140.2,417.8 141.0,417.8 141.9,417.8 142.7,417.8 143.5,417.8 144.3,417.8 145.1,417.8 145.9,417.8 146.8,417.8 147.6,417.8 148.4,417.8 149.2,417.8 150.0,417.8 150.8,417.8 151.7,417.8 152.5,417.8 153.3,417.8 154.1,417.8 154.9,417.8 155.7,417.8 156.6,417.8 157.4,417.8 158.2,417.8 159.0,417.8 159.8,417.8 160.6,417.8 161.5,417.8 162.3,417.8 163.1,417.8 163.9,417.8 164.7,417.8 165.5,417.8 166.4,417.7 167.2,417.7 168.0,417.6 168.8,417.5 169.6,417.3 170.4,417.0 171.3,416.7 172.1,416.2 172.9,415.6 173.7,414.9 174.5,413.9 175.3,412.7 176.2,411.3 177.0,409.7 177.8,407.7 178.6,405.5 179.4,403.0 180.2,400.1 181.1,397.0 181.9,393.5 182.7,389.7 183.5,385.6 184.3,381.2 185.1,376.4 186.0,371.4 186.8,366.1 187.6,360.5 188.4,354.8 189.2,348.8 190.0,342.7 190.9,336.5 191.7,330.3 192.5,324.0 193.3,317.7 194.1,311.5 194.9,305.3 195.8,299.2 196.6,293.1 197.4,287.1 198.2,281.1 199.0,275.1 199.8,269.1 200.7,263.0 201.5,256.8 202.3,250.4 203.1,243.8 203.9,237.0 204.7,230.0 205.6,222.8 206.4,215.4 207.2,207.8 208.0,200.1 208.8,192.3 209.6,184.4 210.5,176.7 211.3,169.1 212.1,161.7 212.9,154.6 213.7,147.8 214.5,141.6 215.4,135.8 216.2,130.6 217.0,125.9 217.8,121.9 218.6,118.6 219.4,115.9 220.3,113.8 221.1,112.4 221.9,111.5 222.7,111.2 223.5,111.3 224.3,111.8 225.2,112.6 226.0,113.7 226.8,114.9 227.6,116.3 228.4,117.7 229.2,119.0 230.1,120.3 230.9,121.3 231.7,122.1 232.5,122.6 233.3,122.8 234.1,122.6 235.0,122.0 235.8,121.0 236.6,119.7 237.4,117.9 238.2,115.7 239.0,113.1 239.9,110.2 240.7,107.0 241.5,103.5 242.3,99.7 243.1,95.7 243.9,91.6 244.8,87.4 245.6,83.1 246.4,78.8 247.2,74.5 248.0,70.3 248.8,66.3 249.7,62.4 250.5,58.8 251.3,55.5 252.1,52.4 252.9,49.7 253.7,47.3 254.6,45.3 255.4,43.8 256.2,42.6 257.0,41.9 257.8,41.7 258.6,41.9 259.5,42.6 260.3,43.8 261.1,45.4 261.9,47.5 262.7,50.0 263.5,52.9 264.4,56.3 265.2,60.0 266.0,64.2 266.8,68.7 267.6,73.5 268.4,78.7 269.3,84.2 270.1,89.9 270.9,95.9 271.7,102.1 272.5,108.5 273.3,115.1 274.2,121.9 275.0,128.8 275.8,135.8 276.6,142.9 277.4,150.1 278.2,157.3 279.1,164.5 279.9,171.8 280.7,179.0 281.5,186.2 282.3,193.4 283.1,200.6 284.0,207.6 284.8,214.6 285.6,221.5 286.4,228.3 287.2,235.0 288.0,241.6 288.9,248.0 289.7,254.3 290.5,260.5 291.3,266.6 292.1,272.4 292.9,278.2 293.8,283.8 294.6,289.2 295.4,294.5 296.2,299.6 297.0,304.6 297.8,309.4 298.7,314.1 299.5,318.6 300.3,322.9 301.1,327.1 301.9,331.2 302.7,335.1 303.6,338.8 304.4,342.5 305.2,345.9 306.0,349.3 306.8,352.5 307.6,355.6 308.5,358.5 309.3,361.4 310.1,364.1 310.9,366.7 311.7,369.2 312.5,371.6 313.4,373.8 314.2,376.0 315.0,378.1 315.8,380.1 316.6,382.0 317.4,383.8 318.3,385.5 319.1,387.1 319.9,388.7 320.7,390.2 321.5,391.6 322.3,393.0 323.2,394.3 324.0,395.5 324.8,396.6 325.6,397.7 326.4,398.8 327.2,399.8 328.1,400.7 328.9,401.6 329.7,402.5 330.5,403.3 331.3,404.1 332.1,404.8 333.0,405.5 333.8,406.2 334.6,406.8 335.4,407.4 336.2,407.9 337.0,408.5 337.9,409.0 338.7,409.5 339.5,409.9 340.3,410.3 341.1,410.7 341.9,411.1 342.8,411.5 343.6,411.8 344.4,412.2 345.2,412.5 346.0,412.7 346.8,413.0 347.7,413.3 348.5,413.5 349.3,413.8 350.1,414.0 350.9,414.2 351.7,414.4 352.6,414.6 353.4,414.8 354.2,414.9 355.0,415.1 355.8,415.2"/>
</g>
<text class="t" transform="translate(74.5,467.8) scale(1.04,1)" font-size="21" text-anchor="middle">0</text>
<text class="t" transform="translate(161.1,467.8) scale(1.04,1)" font-size="21" text-anchor="middle">200</text>
<text class="t" transform="translate(247.6,467.8) scale(1.04,1)" font-size="21" text-anchor="middle">400</text>
<text class="t" transform="translate(334.2,467.8) scale(1.04,1)" font-size="21" text-anchor="middle">600</text>
<text class="t" transform="translate(420.8,467.8) scale(1.04,1)" font-size="21" text-anchor="middle">800</text>
<text class="t" transform="translate(507.3,467.8) scale(1.04,1)" font-size="21" text-anchor="middle">1000</text>
<text class="t" transform="translate(593.9,467.8) scale(1.04,1)" font-size="21" text-anchor="middle">1200</text>
<text class="t" transform="translate(680.4,467.8) scale(1.04,1)" font-size="21" text-anchor="middle">1400</text>
<text class="t" transform="translate(767.0,467.8) scale(1.04,1)" font-size="21" text-anchor="middle">1600</text>
<text class="t" transform="translate(59.0,424.2) scale(1.05,1)" font-size="21" text-anchor="end">0,0</text>
<text class="t" transform="translate(59.0,349.0) scale(1.05,1)" font-size="21" text-anchor="end">0,2</text>
<text class="t" transform="translate(59.0,273.8) scale(1.05,1)" font-size="21" text-anchor="end">0,4</text>
<text class="t" transform="translate(59.0,198.5) scale(1.05,1)" font-size="21" text-anchor="end">0,6</text>
<text class="t" transform="translate(59.0,123.3) scale(1.05,1)" font-size="21" text-anchor="end">0,8</text>
<text class="t" transform="translate(59.0,48.1) scale(1.05,1)" font-size="21" text-anchor="end">1,0</text>
<text class="t" transform="translate(17.2,230.0) rotate(-90) scale(1,0.97)" font-size="20.4" text-anchor="middle">Oscillator strength</text>
<text class="s" transform="translate(366.8,489.8) scale(1.088,1)" font-size="20.2" text-anchor="middle">wavelength (nm)</text>
<g transform="scale(1.06,1)">
<path class="c" stroke="#626262" d="M597.6,27.3H652.8"/>
<path class="c" stroke="#F14040" d="M597.6,58.3H652.8"/>
<path class="c" stroke="#1A6FDF" d="M597.6,89.3H652.8"/>
<path class="c" stroke="#37AD6B" d="M597.6,120.3H652.8"/>
<path class="c" stroke="#B177DE" d="M597.6,151.3H652.8"/>
<path class="c" stroke="#CC9900" d="M597.6,182.3H652.8"/>
<path class="c" stroke="#00CBCC" d="M597.6,213.3H652.8"/>
</g>
<text class="t" transform="translate(699.3,35.2) scale(1.085,1)" font-size="24.8" text-anchor="start">D1</text>
<text class="t" transform="translate(699.3,66.2) scale(1.085,1)" font-size="24.8" text-anchor="start">D2</text>
<text class="t" transform="translate(699.3,97.2) scale(1.085,1)" font-size="24.8" text-anchor="start">D3</text>
<text class="t" transform="translate(699.3,128.2) scale(1.085,1)" font-size="24.8" text-anchor="start">D4</text>
<text class="t" transform="translate(699.3,159.2) scale(1.085,1)" font-size="24.8" text-anchor="start">D5</text>
<text class="t" transform="translate(699.3,190.2) scale(1.085,1)" font-size="24.8" text-anchor="start">D6</text>
<text class="t" transform="translate(699.3,221.2) scale(1.085,1)" font-size="24.8" text-anchor="start">R</text>
</svg>
</body></html>
